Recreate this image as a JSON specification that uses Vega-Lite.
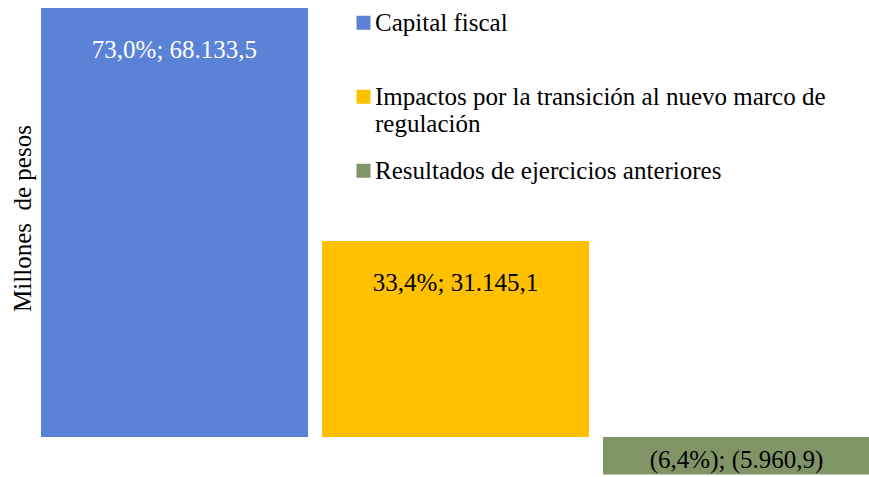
{
  "$schema": "https://vega.github.io/schema/vega-lite/v6.json",
  "width": 829,
  "height": 469,
  "autosize": {"type": "none"},
  "padding": {"left": 41, "top": 8, "right": 0, "bottom": 0},
  "background": "white",
  "config": {"view": {"stroke": null}, "font": "Liberation Serif"},
  "data": {
    "values": [
      {"cat": "Capital fiscal", "v": 68133.5, "lbl": "73,0%; 68.133,5"},
      {"cat": "Impactos por la transición al nuevo marco de regulación", "v": 31145.1, "lbl": "33,4%; 31.145,1"},
      {"cat": "Resultados de ejercicios anteriores", "v": -5960.9, "lbl": "(6,4%); (5.960,9)"}
    ]
  },
  "encoding": {
    "x": {"field": "cat", "type": "nominal", "sort": null, "axis": null,
          "scale": {"paddingInner": 0.05, "paddingOuter": 0}},
    "y": {"field": "v", "type": "quantitative",
          "scale": {"domain": [-6353, 68133.5], "nice": false, "zero": true},
          "axis": {"labels": false, "ticks": false, "domain": false, "grid": false,
                   "title": "Millones\u00a0 de pesos", "titleFont": "Liberation Serif",
                   "titleFontSize": 25, "titleFontWeight": "normal", "titleColor": "#000000",
                   "titleX": -6, "titleY": 210, "titleAngle": -90, "titleBaseline": "bottom", "titleAlign": "center"}}
  },
  "layer": [
    {
      "mark": {"type": "bar"},
      "encoding": {
        "color": {"field": "cat", "type": "nominal",
          "scale": {"domain": ["Capital fiscal", "Impactos por la transición al nuevo marco de regulación", "Resultados de ejercicios anteriores"],
                    "range": ["#5A82D7", "#FFC000", "#7F9566"]},
          "legend": {"orient": "none", "legendX": 310, "legendY": -10, "title": null, "padding": 0,
                     "symbolType": "M-1,0.75H1V2.75H-1Z", "symbolSize": 196, "symbolStrokeWidth": 0,
                     "labelFont": "Liberation Serif", "labelFontSize": 25, "labelColor": "#000000",
                     "labelBaseline": "top", "labelLimit": 700, "labelOffset": -1, "rowPadding": 9,
                     "labelExpr": "datum.label == 'Impactos por la transición al nuevo marco de regulación' ? ['Impactos por la transición al nuevo marco de', 'regulación'] : [datum.label, '']"}}
      }
    },
    {
      "transform": [{"filter": "datum.v > 0"}],
      "mark": {"type": "text", "baseline": "middle", "align": "center", "dy": 42, "fontSize": 25, "font": "Liberation Serif"},
      "encoding": {
        "text": {"field": "lbl"},
        "color": {"condition": {"test": "datum.cat == 'Capital fiscal'", "value": "#FFFFFF"}, "value": "#000000"}
      }
    },
    {
      "transform": [{"filter": "datum.v < 0"}],
      "mark": {"type": "text", "baseline": "middle", "align": "center", "dy": -14.5, "fontSize": 25, "font": "Liberation Serif", "color": "#000000"},
      "encoding": {
        "text": {"field": "lbl"}
      }
    }
  ]
}
